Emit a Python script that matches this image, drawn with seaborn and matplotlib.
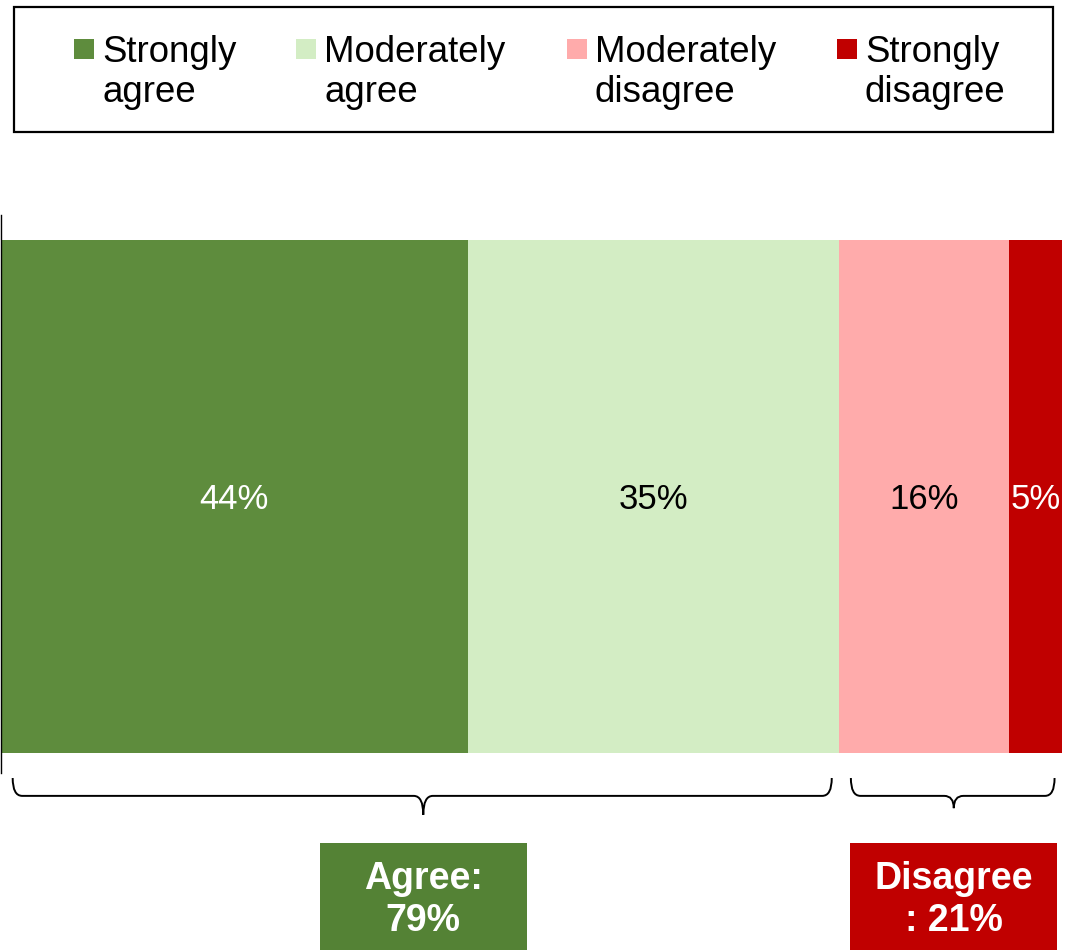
import matplotlib
matplotlib.use("Agg")
import matplotlib.pyplot as plt
from matplotlib.patches import Rectangle, PathPatch
from matplotlib.path import Path
import pandas as pd
import seaborn as sns

# answer categories and shares (%)
categories = ["Strongly\nagree", "Moderately\nagree", "Moderately\ndisagree", "Strongly\ndisagree"]
values = [44, 35, 16, 5]
colors = ["#5E8C3D", "#D3EDC4", "#FFABAB", "#C00000"]
label_colors = ["white", "black", "black", "white"]

# summary groups
group_labels = ["Agree:\n79%", "Disagree\n: 21%"]
group_members = [[0, 1], [2, 3]]
group_colors = ["#548235", "#C00000"]

sns.set_theme(style="white")
plt.rcParams["font.family"] = ["Liberation Sans", "DejaVu Sans"]

W, H = 1071, 950
fig = plt.figure(figsize=(W / 100, H / 100), dpi=100)
ax = fig.add_axes([1 / W, 177 / H, 1061 / W, 558 / H])

df = pd.DataFrame({"cat": categories, "val": values, "color": colors})
df["cum"] = df["val"].cumsum()
df["start"] = df["cum"] - df["val"]

# stacked bar: draw cumulative bars from the longest to the shortest
for i in reversed(range(len(df))):
    sns.barplot(x=[df["cum"][i]], y=["q"], color=df["color"][i], saturation=1,
                width=0.92, orient="h", linewidth=0, edgecolor="none", ax=ax)

for i, row in df.iterrows():
    ax.text(row["start"] + row["val"] / 2, 0.006, f"{row['val']}%", ha="center", va="center",
            color=label_colors[i], fontsize=25)

ax.set_xlim(0, 100)
ax.set_ylim(0.4955, -0.5045)
ax.set_xticks([])
ax.set_yticks([])
ax.set_xlabel("")
ax.set_ylabel("")
for s in ["top", "right", "bottom"]:
    ax.spines[s].set_visible(False)
ax.spines["left"].set_color("black")
ax.spines["left"].set_linewidth(1)

# braces and summary boxes under the bar
trans = ax.get_xaxis_transform()
tips = [-0.075, -0.063]
for g, members in enumerate(group_members):
    lo = df["start"][members[0]]
    hi = df["cum"][members[-1]]
    x0, x1 = lo + 1.1, hi - 0.7
    xc = (lo + hi) / 2 + 0.3
    yt, ym, yb = -0.009, -0.041, tips[g]
    r = 0.9
    verts = [(x0, yt), (x0, ym), (x0 + r, ym), (xc - r, ym), (xc, ym), (xc, yb),
             (xc, ym), (xc + r, ym), (x1 - r, ym), (x1, ym), (x1, yt)]
    codes = [Path.MOVETO, Path.CURVE3, Path.CURVE3, Path.LINETO, Path.CURVE3, Path.CURVE3,
             Path.CURVE3, Path.CURVE3, Path.LINETO, Path.CURVE3, Path.CURVE3]
    ax.add_patch(PathPatch(Path(verts, codes), fill=False, edgecolor="black", lw=1.4,
                           transform=trans, clip_on=False))
    bw = 19.5
    ax.add_patch(Rectangle((xc - bw / 2, -0.33), bw, 0.33 - 0.125, facecolor=group_colors[g],
                           edgecolor="none", transform=trans, clip_on=False))
    ax.text(xc, -0.228, group_labels[g], transform=trans, ha="center", va="center",
            color="white", fontsize=27, fontweight="bold", linespacing=1.2)

# legend box drawn by hand (squares next to first text line)
def fx(x):
    return x / W

def fy(y):
    return 1 - y / H

fig.add_artist(Rectangle((fx(14), fy(132)), (1053 - 14) / W, 125 / H, fill=False,
                         edgecolor="black", lw=1.6, transform=fig.transFigure))
sq_left = [74, 296, 567, 837]
for i, cat in enumerate(categories):
    fig.add_artist(Rectangle((fx(sq_left[i]), fy(59)), 20 / W, 20 / H, facecolor=colors[i],
                             edgecolor="none", transform=fig.transFigure))
    fig.text(fx(sq_left[i] + 28), fy(35), cat, ha="left", va="top", fontsize=26.4,
             color="black", linespacing=1.2)

fig.savefig("out.png", dpi=100, facecolor="white")
